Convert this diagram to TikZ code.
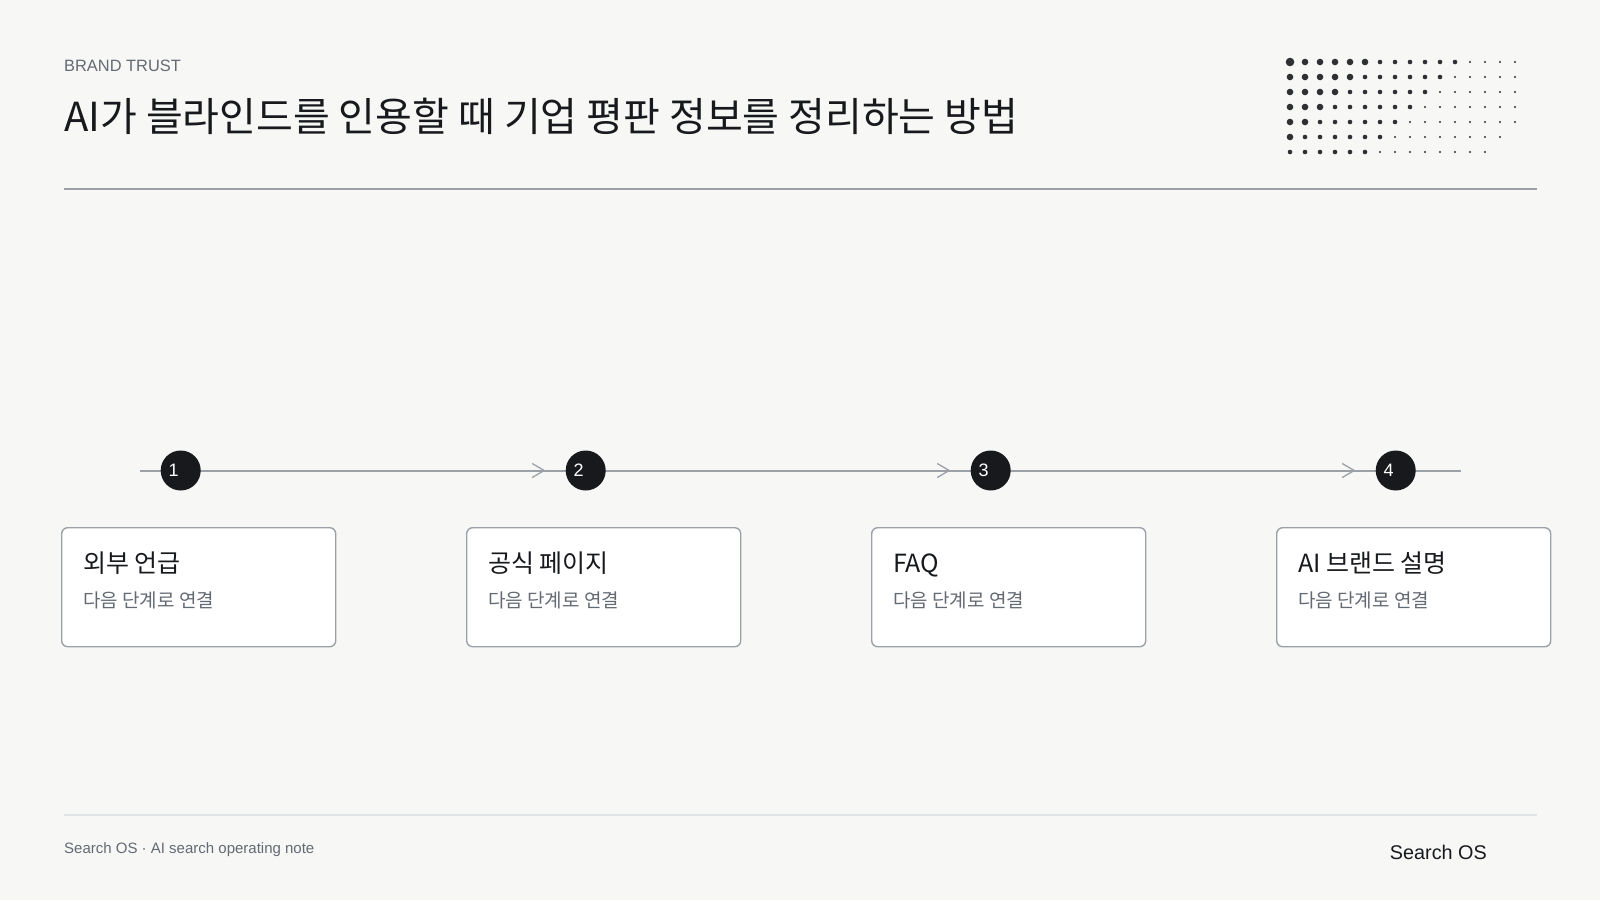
\documentclass[tikz,border=0pt]{standalone}
\usepackage{fontspec}
\setmainfont{Liberation Sans}
\newfontfamily\kr{Noto Sans CJK KR}
\usetikzlibrary{arrows.meta, positioning}
\definecolor{paper}{HTML}{F7F7F6}
\definecolor{ink}{HTML}{17191C}
\definecolor{rulegray}{HTML}{9CA1A8}
\definecolor{muted}{HTML}{646A73}
\definecolor{faint}{HTML}{E2E5E8}
\def\stepsep{405}

\begin{document}
\begin{tikzpicture}[x=1pt,y=-1pt]
    \tikzstyle{badge}=[circle, fill=ink, minimum size=40pt, inner sep=0pt]
    \tikzstyle{badge num}=[text=white, font=\fontsize{18}{20}\selectfont, inner sep=0pt]
    \tikzstyle{card}=[draw=rulegray, fill=white, line width=1.4pt, rounded corners=6pt, minimum width=274pt, minimum height=119pt, anchor=north west, inner sep=0pt]
    \tikzstyle{card title}=[anchor=base west, inner sep=0pt, text=ink, font=\kr\fontsize{25}{29}\selectfont]
    \tikzstyle{card note}=[anchor=base west, inner sep=0pt, text=muted, font=\kr\fontsize{19}{22}\selectfont]
    \tikzstyle{timeline}=[draw=rulegray, line width=2pt]
    \tikzstyle{flow}=[timeline, -{Straight Barb[length=12pt, width=14pt, line width=1.3pt]}]

    % background and page frame
    \fill[paper] (0,0) rectangle (1600,900);
    \useasboundingbox (0,0) rectangle (1600,900);

    % header
    \node[anchor=base west, inner sep=0pt, text=muted, font=\fontsize{16.4}{20}\selectfont] (brand) at (64,71.7) {BRAND TRUST};
    \node[anchor=base west, inner sep=0pt, text=ink, font=\kr\fontsize{40}{47}\selectfont] (title) at (64,131.7) {AI가 블라인드를 인용할 때 기업 평판 정보를 정리하는 방법};
    \draw[rulegray, line width=1.6pt] (64,189) -- (1537,189);

    % dot pattern
    \foreach \r in {0,...,6}{
        \foreach \c in {0,...,15}{
            \pgfmathtruncatemacro\s{\r+\c}
            \ifnum\s<20
                \pgfmathsetmacro\rad{ifthenelse(\s==0,4.3,ifthenelse(\s<6,3.3,ifthenelse(\s<12,2.3,1.2)))}
                \fill[ink!90] (1290+15*\c,62+15*\r) circle[radius=\rad pt];
            \fi
        }
    }

    % timeline
    \coordinate (S) at (140,470.5);
    \coordinate (E) at (1461,470.5);
    \draw[timeline] (S) -- (E);

    \foreach \x/\head/\note in {1/외부 언급/다음 단계로 연결, 2/공식 페이지/다음 단계로 연결, 3/FAQ/다음 단계로 연결, 4/AI 브랜드 설명/다음 단계로 연결}{
        \pgfmathsetmacro\cx{180.7+(\x-1)*\stepsep}
        \pgfmathsetmacro\bx{61+(\x-1)*\stepsep}
        \node[badge] (C-\x) at (\cx,470.5) {};
        \node[badge num] (N-\x) at ([xshift=-7pt]C-\x) {\x};
        \node[card] (B-\x) at (\bx,527) {};
        \node[card title] (T-\x) at ([xshift=22pt,yshift=-45pt]B-\x.north west) {\head};
        \node[card note] (D-\x) at ([xshift=22pt,yshift=-80pt]B-\x.north west) {\note};
    }

    \foreach \x [evaluate=\x as \nx using int(\x+1)] in {1,2,3}{
        \draw[flow] (C-\x.east) -- ([xshift=-20pt]C-\nx.west);
    }

    % footer
    \draw[faint, line width=1.5pt] (64,815) -- (1537,815);
    \node[anchor=base west, inner sep=0pt, text=muted, font=\fontsize{15}{18}\selectfont] (foot) at (64,853.3) {Search OS · AI search operating note};
    \node[anchor=base east, inner sep=0pt, text=ink, font=\fontsize{19.8}{24}\selectfont] (mark) at (1487,859) {Search OS};
\end{tikzpicture}
\end{document}
